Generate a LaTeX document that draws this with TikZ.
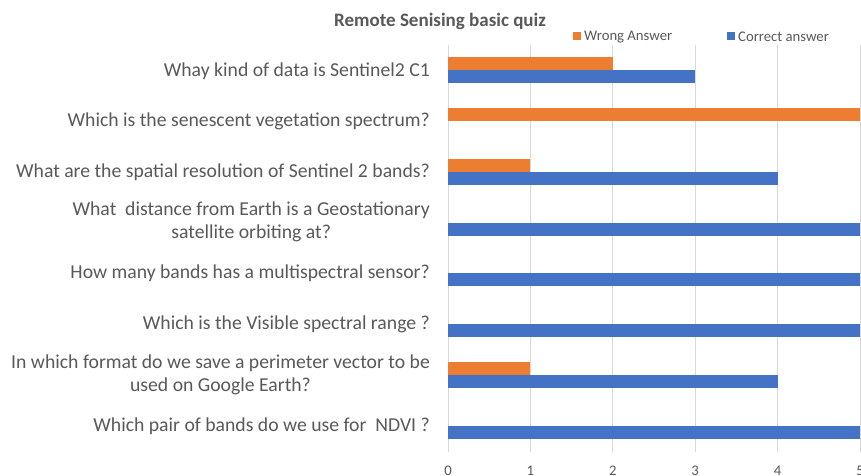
\documentclass[tikz,border=0pt]{standalone}
\usepackage{fontspec}
\setmainfont{Carlito}
\definecolor{txtgray}{HTML}{595959}
\definecolor{gridgray}{HTML}{D9D9D9}
\definecolor{corange}{HTML}{ED7D31}
\definecolor{cblue}{HTML}{4472C4}
\tikzset{
  catlabel/.style={anchor=east, align=center, text=txtgray, font=\fontsize{19.7}{23.5}\selectfont, inner sep=0pt},
  ticklabel/.style={anchor=north, text=txtgray, font=\fontsize{14.7}{17}\selectfont, inner sep=0pt},
  legendtext/.style={anchor=west, text=txtgray, font=\fontsize{14.7}{17}\selectfont, inner sep=0pt},
  gridline/.style={draw=gridgray, line width=0.8pt},
  wbar/.style={fill=corange, draw=none},
  cbar/.style={fill=cblue, draw=none},
}
\begin{document}
\begin{tikzpicture}[x=1pt,y=-1pt]
\useasboundingbox (0,0) rectangle (861,475);
\fill[white] (0,0) rectangle (861,475);
\def\xz{448}
\def\un{82.4}
% gridlines
\foreach \k in {0,...,5} {
  \draw[gridline] (\xz+\k*\un,45) -- (\xz+\k*\un,452);
  \node[ticklabel] (t\k) at (\xz+\k*\un,466) {\k};
}
% bars: row, wrong, correct
\foreach \r/\w/\c in {1/2/3, 2/5/0, 3/1/4, 4/0/5, 5/0/5, 6/0/5, 7/1/4, 8/0/5} {
  \pgfmathsetmacro\yc{70+50.86*(\r-1)}
  \ifdim\w pt>0pt \fill[wbar] (\xz,\yc-13) rectangle (\xz+\w*\un,\yc); \fi
  \ifdim\c pt>0pt \fill[cbar] (\xz,\yc) rectangle (\xz+\c*\un,\yc+13); \fi
}
% category labels
\node[catlabel] (q1) at (430,71) {Whay kind of data is Sentinel2 C1};
\node[catlabel] (q2) at (430,121) {Which is the senescent vegetation spectrum?};
\node[catlabel] (q3) at (430,172) {What are the spatial resolution of Sentinel 2 bands?};
\node[catlabel] (q4) at (430,222) {What\ \ distance from Earth is a Geostationary\\satellite orbiting at?};
\node[catlabel] (q5) at (430,273) {How many bands has a multispectral sensor?};
\node[catlabel] (q6) at (430,324) {Which is the Visible spectral range ?};
\node[catlabel] (q7) at (430,375) {In which format do we save a perimeter vector to be\\used on Google Earth?};
\node[catlabel] (q8) at (430,426) {Which pair of bands do we use for\ \ NDVI ?};
% title
\node[text=txtgray, font=\fontsize{19}{22}\selectfont\bfseries, inner sep=0pt] (title) at (440,21) {Remote Senising basic quiz};
% legend
\fill[corange] (573,32) rectangle (581,40);
\node[legendtext] (lw) at (584,37) {Wrong Answer};
\fill[cblue] (727,32) rectangle (735,40);
\node[legendtext] (lc) at (738,37) {Correct answer};
\end{tikzpicture}
\end{document}
